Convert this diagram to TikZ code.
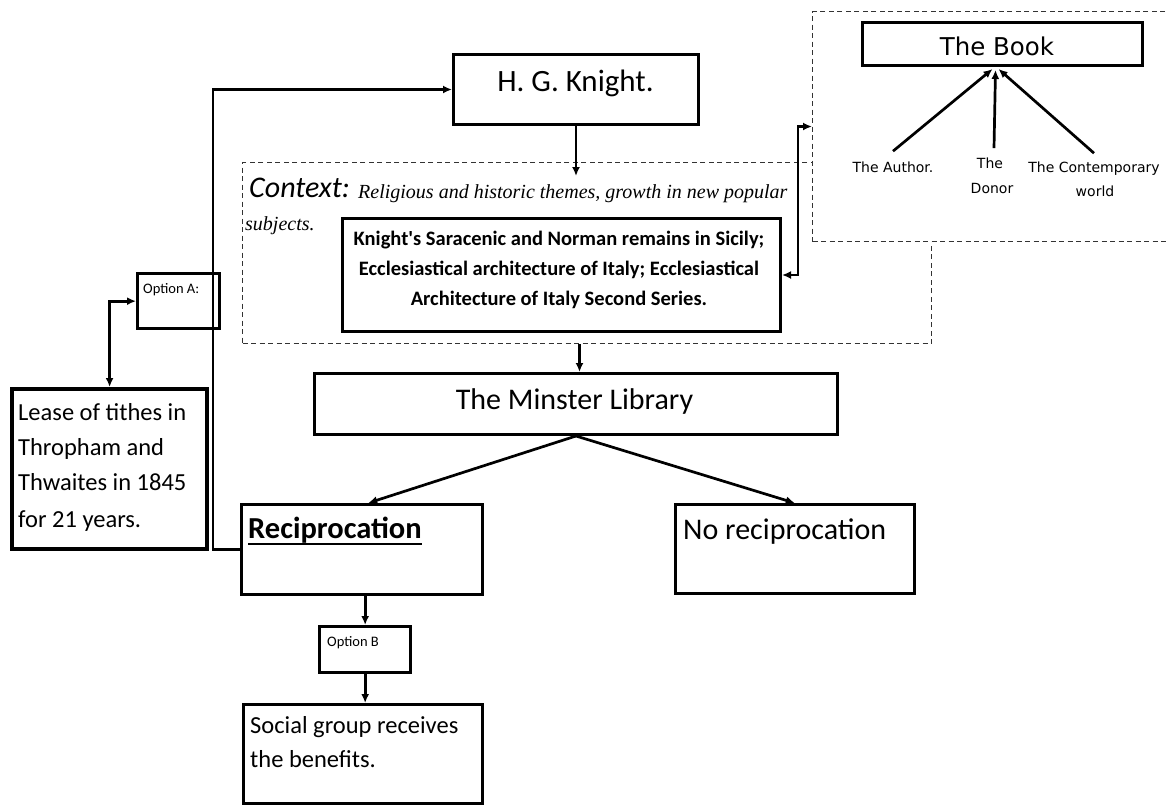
\documentclass[tikz,border=0pt]{standalone}
\usepackage{fontspec}
\setmainfont{Carlito}
\newfontfamily\calfont{Carlito}
\newfontfamily\verfont{DejaVu Sans}
\newfontfamily\serfont{Liberation Serif}
\usetikzlibrary{arrows.meta}

\begin{document}
\begin{tikzpicture}[x=1pt,y=-1pt,
  box/.style={draw, rectangle, inner sep=0pt, anchor=north west, line width=3pt},
  thinbox/.style={box, line width=2.5pt},
  heavybox/.style={box, line width=4.2pt},
  dashbox/.style={draw=black!80, rectangle, inner sep=0pt, anchor=north west,
                  line width=1pt, dash pattern=on 5pt off 3.5pt},
  txt/.style={inner sep=0pt, anchor=base},
  txtl/.style={inner sep=0pt, anchor=base west},
  tip/.tip={Latex[length=9pt,width=8pt]},
  link/.style={line width=2.7pt, -tip},
  biglink/.style={line width=2.7pt, tip-tip},
  big/.style={font=\calfont\fontsize{30}{36}\selectfont},
  body/.style={font=\calfont\fontsize{24.5}{30}\selectfont},
  small/.style={font=\calfont\fontsize{14.5}{18}\selectfont},
  lab/.style={font=\verfont\fontsize{14}{17}\selectfont}
]
\useasboundingbox (0,0) rectangle (1169,804);
\fill[white] (0,0) rectangle (1169,804);

% context panel and its contents
\node[dashbox, minimum width=689pt, minimum height=181pt] (ctx) at (242,162) {};
\node[txtl, font=\calfont\itshape\fontsize{30}{34}\selectfont] (ctxhead) at (249,197) {Context:};
\node[txtl, font=\serfont\itshape\fontsize{20}{24}\selectfont] (ctxline1) at (358,198)
  {Religious and historic themes, growth in new popular};
\node[txtl, font=\serfont\itshape\fontsize{20}{24}\selectfont] (ctxline2) at (245,230) {subjects.};

\node[box, minimum width=438pt, minimum height=113pt] (knights) at (341,217) {};
\node[txt, font=\calfont\bfseries\fontsize{20.5}{30}\selectfont] (kl1) at (559,245)
  {Knight's Saracenic and Norman remains in Sicily;};
\node[txt, font=\calfont\bfseries\fontsize{20.5}{30}\selectfont] (kl2) at (559,275)
  {Ecclesiastical architecture of Italy; Ecclesiastical};
\node[txt, font=\calfont\bfseries\fontsize{20.5}{30}\selectfont] (kl3) at (559,305)
  {Architecture of Italy Second Series.};

% the book panel
\node[dashbox, fill=white, minimum width=363pt, minimum height=230pt] (bookarea) at (812,11) {};
\node[box, minimum width=280pt, minimum height=43pt] (book) at (861,21) {};
\node[txt, font=\verfont\fontsize{24.5}{30}\selectfont] (booktxt) at (997,55) {The Book};
\node[txt, lab] (author) at (893,172) {The Author.};
\node[txt, lab] (donor1) at (990,168) {The};
\node[txt, lab] (donor2) at (992,193) {Donor};
\node[txt, lab] (world1) at (1094,172) {The Contemporary};
\node[txt, lab] (world2) at (1095,196) {world};
\coordinate (hub) at ([xshift=-7pt]book.south);
\draw[link] ([yshift=10pt]author.north) -- ([xshift=-3pt,yshift=-2pt]hub);
\draw[link] ([xshift=4pt,yshift=9pt]donor1.north) -- ([yshift=-3pt]hub);
\draw[link] ([yshift=8pt]world1.north) -- ([xshift=3pt,yshift=-2pt]hub);

% main boxes
\node[box, minimum width=245pt, minimum height=70pt] (hg) at (452,53) {};
\node[txt, font=\calfont\fontsize{31}{36}\selectfont] (hgtxt) at (575.5,91) {H. G. Knight.};

\node[box, minimum width=523pt, minimum height=61pt] (mins) at (313,372) {};
\node[txt, big] (minstxt) at (574.5,409) {The Minster Library};

\node[thinbox, minimum width=241pt, minimum height=90pt] (recip) at (240,503) {};
\node[txtl, font=\calfont\bfseries\fontsize{30.5}{34}\selectfont] (reciptxt) at (248,538)
  {Reciprocation};
\draw[line width=2pt] ([yshift=-5.5pt]reciptxt.base west) -- ([yshift=-5.5pt]reciptxt.base east);

\node[thinbox, minimum width=239pt, minimum height=89pt] (noreci) at (674,503) {};
\node[txtl, big] (norecitxt) at (683,539) {No reciprocation};

\node[box, line width=3.3pt, minimum width=91pt, minimum height=46pt] (optB) at (318,625) {};
\node[txtl, small] (optBtxt) at (327,646) {Option B};

\node[thinbox, minimum width=239pt, minimum height=99pt] (social) at (242,703) {};
\node[txtl, body] (soc1) at (250,733) {Social group receives};
\node[txtl, body] (soc2) at (250,767) {the benefits.};

\node[box, line width=3.3pt, minimum width=82pt, minimum height=55pt] (optA) at (136,272) {};
\node[txtl, small] (optAtxt) at (143,293) {Option A:};

\node[heavybox, minimum width=195pt, minimum height=160pt] (lease) at (10,387) {};
\node[txtl, body] (lease1) at (18,420) {Lease of tithes in};
\node[txtl, body] (lease2) at (18,455) {Thropham and};
\node[txtl, body] (lease3) at (18,490) {Thwaites in 1845};
\node[txtl, body] (lease4) at (18,527) {for 21 years.};

% connectors
\draw[link] (hg.south) -- ++(0,50);
\draw[link] ([xshift=3.5pt]ctx.south -| mins.north) -- ([xshift=3.5pt]mins.north);
\draw[link] (mins.south) -- ([xshift=6.5pt]recip.north);
\draw[link] (mins.south) -- (noreci.north);
\draw[link] (optB.north |- recip.south) -- (optB.north);
\draw[link] (optB.south) -- (optB.south |- social.north);
\draw[link] (recip.west) -- ++(-27,0) |- (hg.west);
\draw[biglink] (optA.west) -| (lease.north);
\draw[biglink] (knights.east) -- ++(16,0) |- (bookarea.west);
\end{tikzpicture}
\end{document}
